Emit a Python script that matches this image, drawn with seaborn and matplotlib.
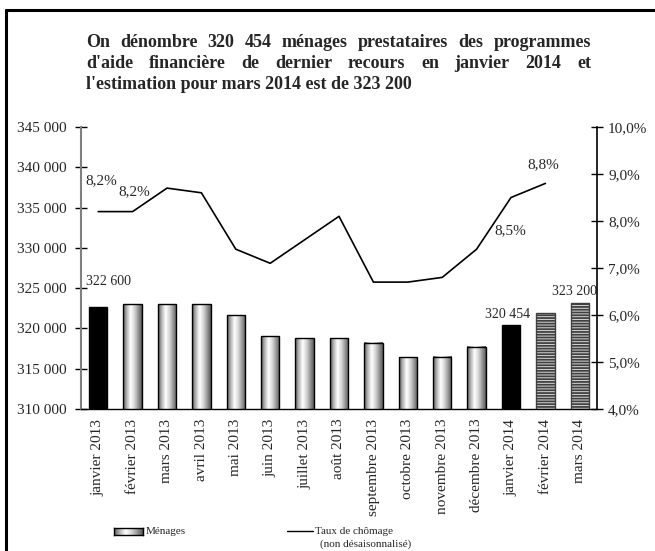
import numpy as np
import pandas as pd
import matplotlib
matplotlib.use('Agg')
import matplotlib.pyplot as plt
from matplotlib.lines import Line2D
from matplotlib.colors import LinearSegmentedColormap
import seaborn as sns

sns.set_style('white')
plt.rcParams['font.family'] = ['Liberation Serif', 'DejaVu Serif']
plt.rcParams['hatch.linewidth'] = 1.3

# data
mois = ['janvier 2013', 'février 2013', 'mars 2013', 'avril 2013', 'mai 2013', 'juin 2013',
        'juillet 2013', 'août 2013', 'septembre 2013', 'octobre 2013', 'novembre 2013',
        'décembre 2013', 'janvier 2014', 'février 2014', 'mars 2014']
menages = [322600, 323000, 323000, 323000, 321650, 319050, 318800, 318800, 318200,
           316400, 316500, 317750, 320454, 321950, 323200]
taux = [8.2, 8.2, 8.7, 8.6, 7.4, 7.1, 7.6, 8.1, 6.7, 6.7, 6.8, 7.4, 8.5, 8.8]

titre = ["On dénombre 320 454 ménages prestataires des programmes",
         "d'aide financière de dernier recours en janvier 2014 et",
         "l'estimation pour mars 2014 est de 323 200"]

df = pd.DataFrame({'mois': mois, 'menages': menages})
dft = pd.DataFrame({'pos': np.arange(len(taux)), 'taux': taux})

W, H = 655, 551
fig = plt.figure(figsize=(W / 100, H / 100), dpi=100)
ax = fig.add_axes([81 / W, 1 - 409 / H, (597 - 81) / W, (409 - 127) / H])

sns.barplot(data=df, x='mois', y='menages', ax=ax, width=0.53, color='lightgray',
            edgecolor='black', linewidth=1.0, saturation=1)
ymin, ymax = 310000, 345000
ax.set_ylim(ymin, ymax)
ax.set_xlim(-0.5, 14.5)

# cylinder-like gradient for most bars
grad_cmap = LinearSegmentedColormap.from_list(
    'cyl', ['#5a5a5a', '#b8b8b8', '#ffffff', '#d8d8d8', '#9a9a9a', '#5a5a5a'])
grad = np.linspace(0, 1, 64).reshape(1, -1)
for i, p in enumerate(ax.patches):
    if i in (0, 12):
        p.set_facecolor('black')
    elif i in (13, 14):
        p.set_facecolor('#d8d8d8')
        p.set_hatch('------')
        p.set_edgecolor('#404040')
    else:
        x0 = p.get_x()
        top = p.get_y() + p.get_height()
        ax.imshow(grad, cmap=grad_cmap, aspect='auto', zorder=p.get_zorder() - 0.1,
                  extent=[x0, x0 + p.get_width(), ymin, top], interpolation='bilinear')
        p.set_facecolor('none')
ax.set_xlim(-0.5, 14.5)
ax.set_ylim(ymin, ymax)

ax2 = ax.twinx()
sns.lineplot(data=dft, x='pos', y='taux', ax=ax2, color='black', linewidth=1.2)
ax2.set_ylim(4, 10)
ax2.set_xlim(-0.5, 14.5)

# axes styling
for a in (ax, ax2):
    a.set_xlabel('')
    a.set_ylabel('')
    a.spines['top'].set_visible(False)
ax.spines['right'].set_visible(False)
ax2.spines['left'].set_visible(False)
ax2.spines['bottom'].set_visible(False)
ax.spines['left'].set_color('#808080')
ax.spines['left'].set_linewidth(1.5)
ax.spines['bottom'].set_color('black')
ax.spines['bottom'].set_linewidth(1.0)
ax2.spines['right'].set_color('black')
ax2.spines['right'].set_linewidth(1.2)

ax.set_yticks(np.arange(ymin, ymax + 1, 5000))
ax.set_yticklabels([f'{v // 1000} 000' for v in range(ymin, ymax + 1, 5000)], fontsize=11)
ax.tick_params(axis='y', direction='inout', length=8, width=1.0, pad=6, color='black')
ax2.set_yticks(np.arange(4, 10.01, 1))
ax2.set_yticklabels([f'{v:.1f}%'.replace('.', ',') for v in np.arange(4, 10.01, 1)], fontsize=11)
ax2.tick_params(axis='y', direction='inout', length=8, width=1.0, pad=4, color='black')

ax.set_xticks(range(len(mois)))
ax.set_xticklabels(mois, rotation=90, fontsize=11)
ax.tick_params(axis='x', length=0, pad=7)
ax.set_xticks(np.arange(0.5, 14, 1), minor=True)
ax.tick_params(axis='x', which='minor', direction='inout', length=8, width=1.0)
ax2.tick_params(axis='x', length=0, labelbottom=False)

# value labels
ax.text(0.3, menages[0] + 3200, '322 600', fontsize=10, ha='center', va='center')
ax.text(11.9, menages[12] + 1300, '320 454', fontsize=10, ha='center', va='center')
ax.text(13.85, menages[14] + 1400, '323 200', fontsize=10, ha='center', va='center')
ax2.text(0.08, taux[0] + 0.65, '8,2%', fontsize=11, ha='center', va='center')
ax2.text(1.06, taux[1] + 0.42, '8,2%', fontsize=11, ha='center', va='center')
ax2.text(11.97, taux[12] - 0.71, '8,5%', fontsize=11, ha='center', va='center')
ax2.text(12.93, taux[13] + 0.39, '8,8%', fontsize=11, ha='center', va='center')

# justified title
fig.canvas.draw()
renderer = fig.canvas.get_renderer()
x_left, x_right = 86 / W, 591 / W
baselines = [47, 68, 89]
for k, line in enumerate(titre):
    y = 1 - baselines[k] / H
    if k == len(titre) - 1:
        fig.text(x_left, y, line, fontsize=13, fontweight='bold', ha='left', va='baseline')
        continue
    words = line.split(' ')
    txts = [fig.text(0, y, w, fontsize=13, fontweight='bold', ha='left', va='baseline')
            for w in words]
    widths = [t.get_window_extent(renderer).width / W for t in txts]
    gap = (x_right - x_left - sum(widths)) / (len(words) - 1)
    x = x_left
    for t, w in zip(txts, widths):
        t.set_x(x)
        x += w + gap

# legend drawn by hand
lax = fig.add_axes([114 / W, 1 - 535 / H, 29 / W, 7 / H])
lax.imshow(grad, cmap=grad_cmap, aspect='auto', interpolation='bilinear')
lax.set_xticks([])
lax.set_yticks([])
for s in lax.spines.values():
    s.set_linewidth(1.0)
    s.set_color('black')
fig.text(146 / W, 1 - 531 / H, 'Ménages', fontsize=8, va='center', ha='left')
fig.add_artist(Line2D([287 / W, 313 / W], [1 - 531 / H, 1 - 531 / H], color='black', lw=1.0))
fig.text(315 / W, 1 - 531 / H, 'Taux de chômage', fontsize=8, va='center', ha='left')
fig.text(320 / W, 1 - 544 / H, '(non désaisonnalisé)', fontsize=8, va='center', ha='left')

# outer frame (left and top edges)
fig.add_artist(Line2D([6 / W, 6 / W], [0, 1 - 10 / H], color='black', lw=2.2))
fig.add_artist(Line2D([6 / W, 1], [1 - 10 / H, 1 - 10 / H], color='black', lw=2.2))

fig.savefig('out.png', dpi=100)
